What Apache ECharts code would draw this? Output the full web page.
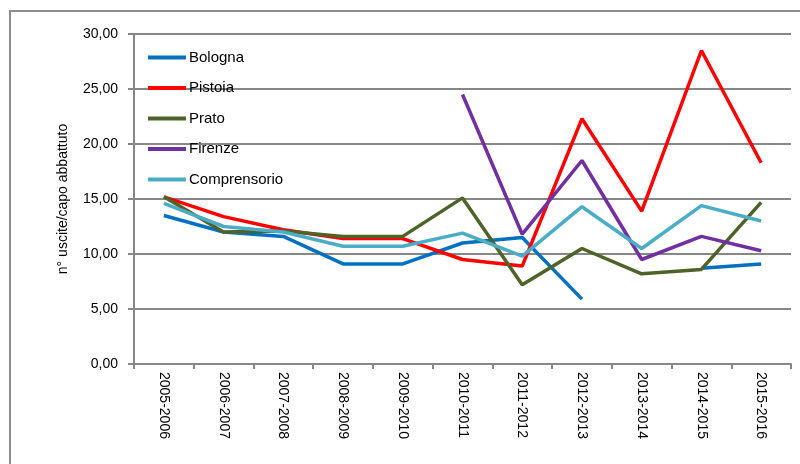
<!DOCTYPE html>
<html>
<head>
<meta charset="utf-8">
<script src="https://cdn.jsdelivr.net/npm/echarts@6/dist/echarts.min.js"></script>
<style>
  html, body { margin: 0; padding: 0; background: #fff; }
  #chart { width: 800px; height: 464px; }
</style>
</head>
<body>
<div id="chart"></div>
<script>
// Campaign periods
const periods = ['2005-2006', '2006-2007', '2007-2008', '2008-2009', '2009-2010',
  '2010-2011', '2011-2012', '2012-2013', '2013-2014', '2014-2015', '2015-2016'];

// Exits per slaughtered head, by area
const bologna      = [13.5, 12.0, 11.6, 9.1, 9.1, 11.0, 11.5, 5.9, null, 8.7, 9.1];
const pistoia      = [15.2, 13.4, 12.2, 11.4, 11.4, 9.5, 8.9, 22.3, 13.9, 28.5, 18.3];
const prato        = [15.2, 12.0, 12.1, 11.6, 11.6, 15.1, 7.2, 10.5, 8.2, 8.6, 14.7];
const firenze      = [null, null, null, null, null, 24.5, 11.8, 18.5, 9.5, 11.6, 10.3];
const comprensorio = [14.6, 12.5, 12.0, 10.7, 10.7, 11.9, 9.8, 14.3, 10.5, 14.4, 13.0];

const seriesNames  = ['Bologna', 'Pistoia', 'Prato', 'Firenze', 'Comprensorio'];
const seriesData   = [bologna, pistoia, prato, firenze, comprensorio];
const seriesColors = ['#0070C0', '#FF0000', '#4F6228', '#7030A0', '#4BACC6'];

const fontFamily = '"Liberation Sans", Arial, sans-serif';
const gridGray = '#878787';

const chart = echarts.init(document.getElementById('chart'), null, { renderer: 'canvas' });

chart.setOption({
  animation: false,
  backgroundColor: '#fff',
  textStyle: { fontFamily: fontFamily },
  graphic: [{
    type: 'rect',
    shape: { x: 10, y: 11, width: 800, height: 470 },
    style: { fill: 'none', stroke: '#8c8c8c', lineWidth: 2 },
    z: -10
  }],
  grid: { left: 134, right: 9, top: 34, bottom: 100, containLabel: false },
  legend: {
    orient: 'vertical',
    left: 143,
    top: 45,
    icon: 'rect',
    itemWidth: 38,
    itemHeight: 4,
    itemGap: 15.5,
    data: seriesNames,
    textStyle: { fontSize: 15, color: '#000', fontFamily: fontFamily, padding: [0, 0, 0, -2] }
  },
  xAxis: {
    type: 'category',
    data: periods,
    boundaryGap: true,
    axisLine: { lineStyle: { color: gridGray, width: 2 } },
    axisTick: { show: true, length: 5, inside: false, lineStyle: { color: gridGray, width: 2 } },
    axisLabel: {
      rotate: -90,
      margin: 8,
      fontSize: 14,
      color: '#000',
      fontFamily: fontFamily
    }
  },
  yAxis: {
    type: 'value',
    min: 0,
    max: 30,
    interval: 5,
    name: 'n° uscite/capo abbattuto',
    nameLocation: 'middle',
    nameGap: 64,
    nameRotate: 90,
    nameTextStyle: { fontSize: 14, color: '#000', fontFamily: fontFamily },
    axisLine: { show: true, lineStyle: { color: gridGray, width: 2 } },
    axisTick: { show: true, length: 6, lineStyle: { color: gridGray, width: 2 } },
    splitLine: { show: true, lineStyle: { color: gridGray, width: 2 } },
    axisLabel: {
      margin: 16,
      fontSize: 14,
      color: '#000',
      fontFamily: fontFamily,
      formatter: v => v.toFixed(2).replace('.', ',')
    }
  },
  series: seriesNames.map((name, i) => ({
    name: name,
    type: 'line',
    data: seriesData[i],
    showSymbol: false,
    symbol: 'none',
    connectNulls: false,
    color: seriesColors[i],
    lineStyle: { width: 3.5, color: seriesColors[i] },
    itemStyle: { color: seriesColors[i] }
  }))
});
</script>
</body>
</html>
